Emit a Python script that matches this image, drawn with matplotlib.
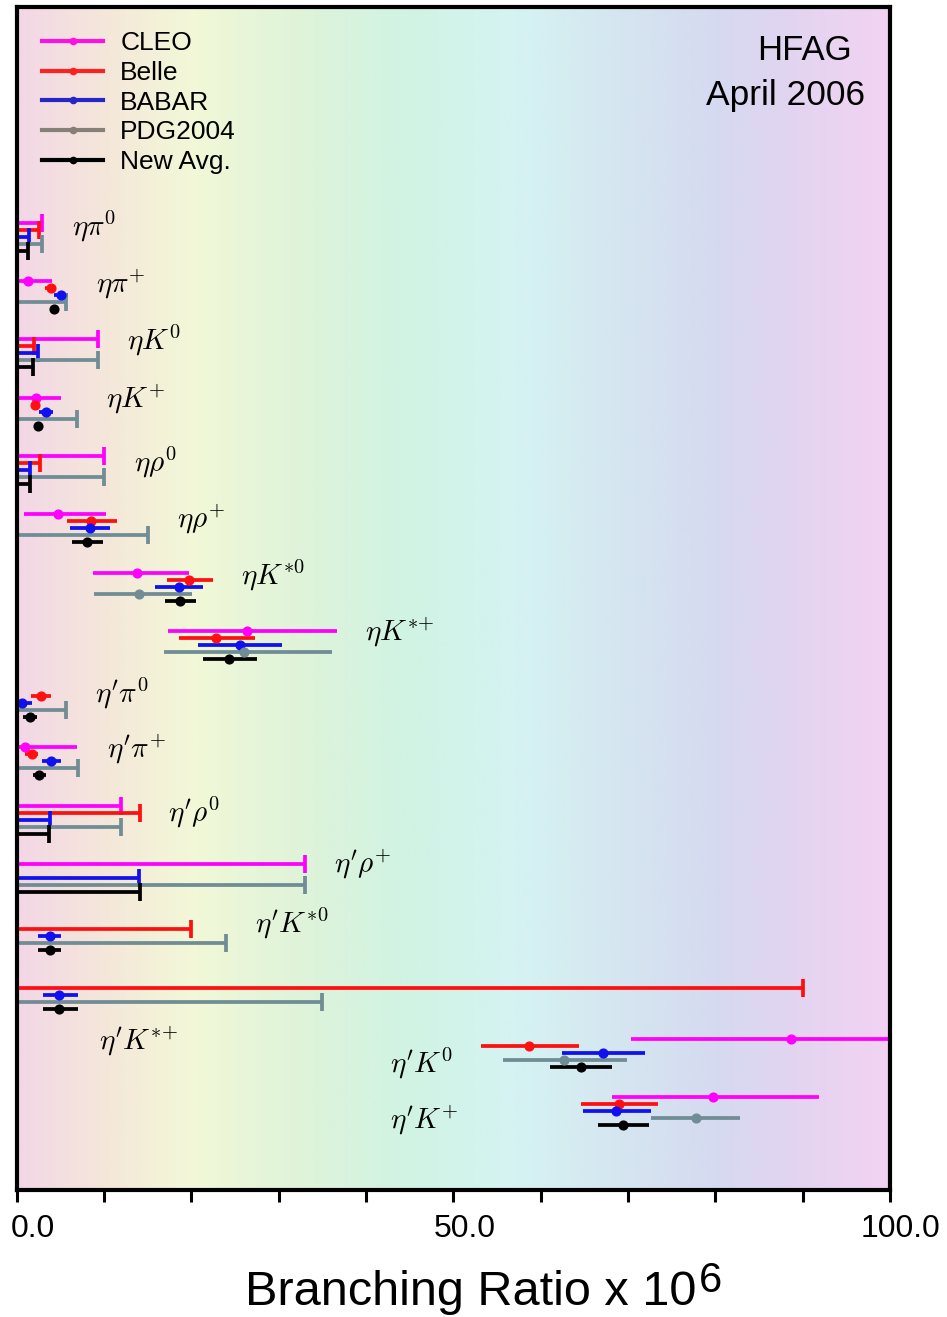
import matplotlib
matplotlib.use("Agg")
import matplotlib.pyplot as plt
import numpy as np
from matplotlib.lines import Line2D
from matplotlib.colors import LinearSegmentedColormap
from matplotlib.transforms import ScaledTranslation

plt.rcParams['font.family'] = ['Liberation Sans', 'DejaVu Sans']

# ---------------- data ----------------
decays = [r"$\eta\pi^0$", r"$\eta\pi^{+}$", r"$\eta K^0$", r"$\eta K^{+}$",
          r"$\eta\rho^0$", r"$\eta\rho^{+}$", r"$\eta K^{*0}$", r"$\eta K^{*{+}}$",
          r"$\eta'\pi^0$", r"$\eta'\pi^{+}$", r"$\eta'\rho^0$", r"$\eta'\rho^{+}$",
          r"$\eta' K^{*0}$", r"$\eta' K^{*{+}}$", r"$\eta' K^0$", r"$\eta' K^{+}$"]

experiments = ["CLEO", "Belle", "BABAR", "PDG2004", "New Avg."]
N = None

cleo_val = [N, 1.3, N, 2.2, N, 4.8, 13.8, 26.4, N, 1.0, N, N, N, N, 88.7, 79.7]
cleo_elo = [N, 1.3, N, 2.2, N, 3.9, 5.0, 9.0, N, 1.0, N, N, N, N, 18.4, 11.5]
cleo_ehi = [N, 2.8, N, 2.9, N, 5.4, 5.9, 10.3, N, 5.9, N, N, N, N, 18.0, 12.2]
cleo_ul = [2.9, N, 9.3, N, 10.0, N, N, N, N, N, 12.0, 33.0, N, N, N, N]

belle_val = [N, 3.9, N, 2.1, N, 8.5, 19.8, 22.8, 2.8, 1.8, N, N, N, N, 58.7, 69.0]
belle_elo = [N, 0.6, N, 0.4, N, 2.75, 2.6, 4.2, 1.1, 0.8, N, N, N, N, 5.5, 4.4]
belle_ehi = [N, 0.6, N, 0.4, N, 3.0, 2.7, 4.5, 1.2, 0.7, N, N, N, N, 5.7, 4.4]
belle_ul = [2.6, N, 2.0, N, 2.7, N, N, N, N, N, 14.1, N, 20.0, 90.0, N, N]

babar_val = [N, 5.1, N, 3.4, N, 8.4, 18.6, 25.6, 0.65, 4.0, N, N, 3.8, 4.9, 67.2, 68.6]
babar_elo = [N, 0.8, N, 0.8, N, 2.3, 2.7, 4.8, 0.6, 1.1, N, N, 1.3, 1.9, 4.7, 3.8]
babar_ehi = [N, 0.8, N, 0.8, N, 2.35, 2.8, 4.8, 1.1, 1.1, N, N, 1.3, 2.1, 4.8, 4.0]
babar_ul = [1.4, N, 2.5, N, 1.5, N, N, N, N, N, 3.8, 14.0, N, N, N, N]

pdg_val = [N, N, N, N, N, N, 14.0, 26.0, N, N, N, N, N, N, 62.7, 77.8]
pdg_elo = [N, N, N, N, N, N, 5.1, 9.1, N, N, N, N, N, N, 7.0, 5.2]
pdg_ehi = [N, N, N, N, N, N, 6.1, 10.1, N, N, N, N, N, N, 7.2, 5.0]
pdg_ul = [2.9, 5.7, 9.3, 6.9, 10.0, 15.0, N, N, 5.7, 7.0, 12.0, 33.0, 24.0, 35.0, N, N]

avg_val = [N, 4.3, N, 2.5, N, 8.05, 18.7, 24.3, 1.6, 2.63, N, N, 3.8, 4.9, 64.6, 69.4]
avg_elo = [N, 0.4, N, 0.3, N, 1.7, 1.7, 3.0, 0.8, 0.7, N, N, 1.3, 1.9, 3.5, 2.8]
avg_ehi = [N, 0.4, N, 0.3, N, 1.85, 1.9, 3.2, 0.8, 0.7, N, N, 1.3, 2.1, 3.6, 3.0]
avg_ul = [1.3, N, 1.9, N, 1.5, N, N, N, N, N, 3.7, 14.1, N, N, N, N]

xtick_vals = [0, 50, 100]
xtick_labels = ["0.0", "50.0", "100.0"]

# ---------------- layout / style ----------------
colors = ["#FF00FF", "#FF1010", "#1010F0", "#708C94", "#000000"]
legend_colors = ["#FF10E0", "#FF2020", "#2525C8", "#868078", "#000000"]
label_x = [6.4, 9.15, 12.7, 10.3, 13.4, 18.4, 25.7, 39.9, 9.0, 10.4, 17.3, 36.4, 27.3, 9.4, 42.8, 42.8]
label_y = [0.04, 1.05, 2.01, 3.02, 4.09, 5.08, 6.03, 7.02, 8.05, 9.03, 10.1, 11.0, 12.0, 14.04, 14.4, 15.4]
tick_label_dx = [16, 11, 10]  # pixel shift of tick labels
slot = 0.12

series = [
    (cleo_val, cleo_elo, cleo_ehi, cleo_ul),
    (belle_val, belle_elo, belle_ehi, belle_ul),
    (babar_val, babar_elo, babar_ehi, babar_ul),
    (pdg_val, pdg_elo, pdg_ehi, pdg_ul),
    (avg_val, avg_elo, avg_ehi, avg_ul),
]

fig = plt.figure(figsize=(9.47, 13.17), dpi=100)
ax = fig.add_axes([16.5 / 947, (1317 - 1190) / 1317, 873.5 / 947, 1183 / 1317])

y_top, y_bot = -3.70, 16.59

# background gradient
stops = [(0.00, (243, 215, 230)), (0.10, (245, 231, 218)), (0.20, (242, 248, 215)),
         (0.33, (222, 243, 218)), (0.45, (208, 243, 228)), (0.57, (213, 243, 243)),
         (0.69, (213, 230, 240)), (0.80, (213, 218, 240)), (0.88, (225, 213, 240)),
         (1.00, (243, 210, 243))]
cmap = LinearSegmentedColormap.from_list("bg", [(p, tuple(c / 255 for c in col)) for p, col in stops])
grad = np.linspace(0, 1, 512)[None, :]
ax.imshow(grad, cmap=cmap, extent=[0, 100, y_bot, y_top], aspect='auto',
          interpolation='bilinear', zorder=0)

for k, (vals, elo, ehi, uls) in enumerate(series):
    c = colors[k]
    idx = [i for i, v in enumerate(vals) if v is not None]
    if idx:
        x = np.array([vals[i] for i in idx])
        y = np.array([i + k * slot for i in idx])
        xe = np.array([[elo[i] for i in idx], [ehi[i] for i in idx]])
        ax.errorbar(x, y, xerr=xe, fmt='o', color=c, ms=6.3, lw=2.7, capsize=0,
                    elinewidth=2.7, zorder=3)
    uidx = [i for i, v in enumerate(uls) if v is not None]
    if uidx:
        u = np.array([uls[i] for i in uidx])
        y = np.array([i + k * slot for i in uidx])
        ax.hlines(y, 0, u, color=c, lw=2.7, zorder=3)
        ax.plot(u, y, ls='none', marker='|', ms=13.5, mew=2.7, color=c, zorder=3)

for i, lab in enumerate(decays):
    ax.text(label_x[i], label_y[i], lab, fontsize=21, math_fontfamily='cm',
            ha='left', va='center', zorder=4)

ax.set_xlim(0, 100)
ax.set_ylim(y_bot, y_top)
ax.set_yticks([])
ax.set_xticks(xtick_vals)
ax.set_xticklabels(xtick_labels)
ax.set_xticks([v for v in range(10, 100, 10) if v != 50], minor=True)
ax.tick_params(axis='x', which='both', direction='out', length=8.6, width=2.2,
               pad=9, labelsize=23)
for lbl, dx in zip(ax.get_xticklabels(), tick_label_dx):
    lbl.set_transform(lbl.get_transform() + ScaledTranslation(dx / 100, 0, fig.dpi_scale_trans))
for s in ax.spines.values():
    s.set_linewidth(3)
    s.set_zorder(5)

handles = [Line2D([], [], color=legend_colors[k], lw=3, marker='o', ms=4.5)
           for k in range(5)]
ax.legend(handles, experiments, loc='upper left',
          bbox_to_anchor=((42 - 16) / 874, 1 - (31 - 7) / 1183),
          frameon=False, borderpad=0, borderaxespad=0, fontsize=19,
          handlelength=2.31, handletextpad=0.64, labelspacing=0.22)

ax.text(0.9565, 0.9636, "HFAG", transform=ax.transAxes, ha='right', va='center', fontsize=25)
ax.text(0.9714, 0.9256, "April 2006", transform=ax.transAxes, ha='right', va='center', fontsize=25.5)

fig.text(245 / 947, 1 - 1305 / 1317, "Branching Ratio x 10", fontsize=35,
         ha='left', va='baseline')
fig.text(699 / 947, 1 - 1292 / 1317, "6", fontsize=30, ha='left', va='baseline')

fig.savefig("out.png", dpi=100)
